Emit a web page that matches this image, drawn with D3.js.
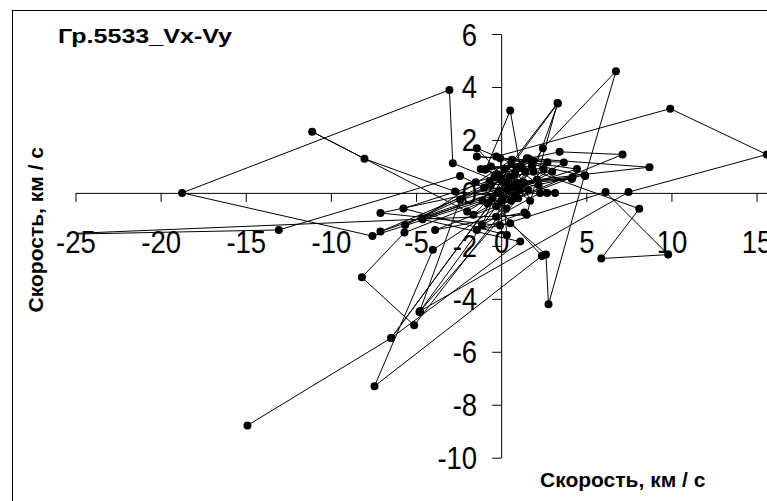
<!DOCTYPE html>
<html>
<head>
<meta charset="utf-8">
<script src="https://cdn.jsdelivr.net/npm/d3@7"></script>
<style>
  body { margin: 0; background: #fff; }
  svg { display: block; font-family: "Liberation Sans", Arial, sans-serif; }
</style>
</head>
<body>
<div id="chart"></div>
<script>
//*********************** DATA ***********************
var chartTitle = "Гр.5533_Vx-Vy",
    axisTitle = "Скорость, км / с";

var xTicks = [-25, -20, -15, -10, -5, 0, 5, 10, 15],
    yTicks = [6, 4, 2, 0, -2, -4, -6, -8, -10];

// Vx, Vy in visiting order (points are joined by a line in this order)
var vx = [-14.9, -6.46, 0.3, -0.9, 0.53, 1.12, -1.43, 0.7, -2.84, -3.04,
          -18.74, -7.56, -1.1, 3.31, 1.5, -27.0, -13.06, -2.41, 0.6, 2.45,
          6.74, 4.94, -0.29, 9.93, 15.6, 7.48, -4.76, 1.0, -2.7, -8.03,
          -11.1, -2.0, 1.9, 3.33, 0.0, -0.5, -5.68, -8.18, -5.11, 0.8,
          -4.01, -7.44, 2.39, -0.3, 7.13, 3.43, 1.61, 8.71, 2.1, -7.09,
          -0.06, 6.13, 9.81, 5.88, 8.11, 1.2, -1.63, 3.68, -1.43, 2.72,
          -5.74, 0.33, -0.06, 4.45, -4.66, 0.63, -1.13, 2.29, 2.7, 3.17,
          -0.94, 1.86, -5.64, 0.5, -6.46, 1.12, -4.62, 0.9, -7.09, -0.6,
          4.19, -3.88, 1.37, -1.43, 0.53, 2.63, 2.78, 4.9, -0.2, 1.3,
          -2.41, -4.8, 0.4, 1.51, -0.4, 3.0, 0.1, 1.6, -1.0, 0.8,
          -0.3, 1.0, 4.15, -0.7, 0.2, 1.4, -0.8, 0.6, 2.2, -0.2,
          1.7, 0.9, -1.5, 0.3, 2.5, -0.6, 1.1, 0.0, 1.8, -1.2];
var vy = [-8.78, -5.48, 0.4, 0.9, 3.11, 0.99, 1.69, 0.2, 1.12, 3.89,
          0.0, -1.63, -0.3, 3.39, -0.83, -1.58, -1.40, 0.64, -0.3, 1.69,
          4.59, 0.64, 1.37, 3.18, 1.45, 0.03, -4.46, -0.2, 0.05, 1.29,
          2.31, -0.7, 0.8, 3.38, 0.5, -0.2, -1.50, -3.19, -5.0, -0.1,
          -2.15, -7.30, -2.38, -0.5, 1.45, 1.55, 1.30, 0.97, 0.5, -0.76,
          -1.23, 0.03, -2.33, -2.48, -0.6, 1.0, -0.83, 1.15, 1.37, 1.16,
          -0.59, -1.59, 1.31, 0.90, -0.96, 1.25, -1.21, 0.0, 0.0, 0.0,
          0.87, 1.22, -1.21, 0.6, -5.48, -1.84, -1.0, 0.3, -1.46, 0.3,
          0.59, -1.40, -0.74, -1.40, -1.15, -2.33, -4.21, 0.67, 0.0, 0.4,
          -0.26, -4.5, 0.1, 1.31, 0.6, 0.8, -0.2, 0.1, 0.2, 0.7,
          -0.9, 0.35, 0.52, 0.4, 0.9, 0.8, -0.4, 1.1, 0.3, 0.7,
          -0.3, 0.9, 0.4, -0.6, 0.9, 1.0, 0.1, -0.3, 1.0, 0.9];

//*********************** SETUP ***********************
var width = 767,
    height = 501,
    labelScale = 0.86;

var data = vx.map(function(d, i) { return {x: d, y: vy[i]}; });

var xScale = d3.scaleLinear().domain([-25, 20]).range([75.5, 841.7]),
    yScale = d3.scaleLinear().domain([-10, 6]).range([457.7, 34]);

var svg = d3.select("#chart").append("svg")
    .attr("width", width)
    .attr("height", height);

// chart frame (runs off the right and bottom of the picture)
svg.append("rect")
    .attr("x", 12.5).attr("y", 10.5)
    .attr("width", 800).attr("height", 520)
    .attr("fill", "none")
    .attr("stroke", "#000")
    .attr("stroke-width", 1);

svg.append("defs").append("clipPath")
    .attr("id", "plotclip")
    .append("rect")
    .attr("x", xScale(-25)).attr("y", yScale(6))
    .attr("width", xScale(20) - xScale(-25))
    .attr("height", yScale(-10) - yScale(6));

//*********************** AXES ***********************
// plain hyphen for negatives, as in the original
var fmt = function(d) { return String(d); };

var xAxis = d3.axisBottom(xScale).tickValues(xTicks).tickSize(9).tickSizeOuter(0).tickFormat(fmt),
    yAxis = d3.axisLeft(yScale).tickValues(yTicks).tickSize(9).tickSizeOuter(0).tickFormat(fmt);

var gx = svg.append("g")
    .attr("transform", "translate(0," + yScale(0) + ")")
    .call(xAxis);

var gy = svg.append("g")
    .attr("transform", "translate(" + xScale(0) + ",0)")
    .call(yAxis);

[gx, gy].forEach(function(g) {
  g.select(".domain").attr("stroke", "#000");
  g.selectAll(".tick line").attr("stroke", "#000");
  g.selectAll(".tick text")
    .attr("fill", "#000")
    .style("font-size", "32px")
    .attr("font-family", "\"Liberation Sans\", Arial, sans-serif");
});

gx.selectAll(".tick text")
    .attr("y", null).attr("dy", null)
    .attr("transform", "translate(0,60) scale(" + labelScale + ",1)");

gy.selectAll(".tick text")
    .attr("x", null).attr("dy", null)
    .attr("transform", "translate(-24,11) scale(" + labelScale + ",1)");

//*********************** SERIES ***********************
var line = d3.line()
    .x(function(d) { return xScale(d.x); })
    .y(function(d) { return yScale(d.y); });

var plot = svg.append("g").attr("clip-path", "url(#plotclip)");

plot.append("path").datum(data)
    .attr("d", line)
    .attr("fill", "none")
    .attr("stroke", "#000")
    .attr("stroke-width", 1);

plot.selectAll("circle")
    .data(data)
    .enter()
    .append("circle")
    .attr("cx", function(d) { return xScale(d.x); })
    .attr("cy", function(d) { return yScale(d.y); })
    .attr("r", 4)
    .attr("fill", "#000");

//*********************** TITLES ***********************
svg.append("text")
    .attr("x", 58).attr("y", 43)
    .attr("font-weight", "bold")
    .style("font-size", "20px")
    .attr("textLength", 174)
    .attr("lengthAdjust", "spacingAndGlyphs")
    .text(chartTitle);

svg.append("text")
    .attr("x", 540).attr("y", 487)
    .attr("font-weight", "bold")
    .style("font-size", "21px")
    .text(axisTitle);

svg.append("text")
    .attr("transform", "translate(43,147) rotate(-90)")
    .attr("text-anchor", "end")
    .attr("font-weight", "bold")
    .style("font-size", "21px")
    .text(axisTitle);
</script>
</body>
</html>
